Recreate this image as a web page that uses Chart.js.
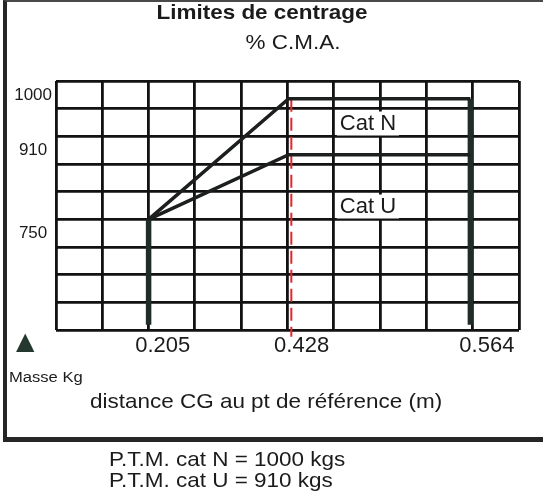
<!DOCTYPE html>
<html><head><meta charset="utf-8">
<script src="https://cdn.jsdelivr.net/npm/chart.js@4.4.1/dist/chart.umd.min.js"></script>
<style>
html,body{margin:0;padding:0;background:#fff;}
#wrap{position:relative;width:543px;height:495px;overflow:hidden;font-family:'Liberation Sans',Arial,sans-serif;color:#1b1b1b;}
#frame{position:absolute;left:3px;top:0;width:560px;height:442px;box-sizing:border-box;border-top:2px solid #4a4a4a;border-left:4px solid #262626;border-bottom:5px solid #262626;}
canvas{position:absolute;left:0;top:0;}
.t{position:absolute;white-space:nowrap;line-height:1;transform:scaleX(1.07);transform-origin:left top;}
.c{transform-origin:center top;}
</style></head><body>
<div id="wrap">
<div id="frame"></div>
<canvas id="c" width="543" height="495"></canvas>
<div class="t c" style="left:0;width:524px;text-align:center;top:1px;font-size:21px;font-weight:bold;">Limites de centrage</div>
<div class="t c" style="left:0;width:586px;text-align:center;top:31px;font-size:21px;">% C.M.A.</div>
<div class="t" style="left:16px;top:329px;font-size:24px;font-family:'DejaVu Sans',sans-serif;color:#24382f;transform:none;">▲</div>
<div class="t" style="left:9px;top:369px;font-size:15.5px;">Masse Kg</div>
<div class="t" style="left:90px;top:390px;font-size:21px;">distance CG au pt de référence (m)</div>
<div class="t" style="left:109px;top:448px;font-size:21px;">P.T.M. cat N = 1000 kgs</div>
<div class="t" style="left:109px;top:469px;font-size:21px;">P.T.M. cat U = 910 kgs</div>
</div>
<script>
// ---- data ----
const cgPositions = [0.205, 0.428, 0.564];          // m
const catNMass = [750, 1000, 1000];                 // kg
const catUMass = [750, 910, 910];                   // kg
const forwardLimitCg = [0.205, 0.205];
const forwardLimitMass = [750, 490];
const aftLimitCg = [0.564, 0.564];
const aftLimitMass = [1000, 490];
const refLineCg = [0.430, 0.430];
const refLineMass = [1000, 460];
const xTickLabels = ['', '', '0.205', '', '', '0.428', '', '', '', '0.564'];
const yTickLabels = ['1000', '', '910', '', '', '750', '', '', ''];
const categoryLabels = ['Cat N', 'Cat U'];

// ---- scale configuration (schematic, non-uniform axes) ----
const scaleKnots = {
  xData: {values: [0.205, 0.428, 0.564], decimals: [0.2, 0.5025, 0.895]},
  yData: {values: [750, 910, 1000], decimals: [0.444, 0.704, 0.929]}
};
const catLabelCells = [{col: 6, row: 1}, {col: 6, row: 4}];

function interp(v, xs, ys) {
  let i = 0;
  if (v <= xs[0]) i = 0;
  else if (v >= xs[xs.length - 1]) i = xs.length - 2;
  else { while (v > xs[i + 1]) i++; }
  const t = (v - xs[i]) / (xs[i + 1] - xs[i]);
  return ys[i] + t * (ys[i + 1] - ys[i]);
}
class PiecewiseScale extends Chart.LinearScale {
  getPixelForValue(value) {
    const k = scaleKnots[this.id];
    return this.getPixelForDecimal(interp(value, k.values, k.decimals));
  }
  getValueForPixel(pixel) {
    const k = scaleKnots[this.id];
    return interp(this.getDecimalForPixel(pixel), k.decimals, k.values);
  }
}
PiecewiseScale.id = 'piecewise';
PiecewiseScale.defaults = Chart.LinearScale.defaults;
Chart.register(PiecewiseScale);

const pts = (xs, ys) => xs.map((x, i) => ({x: x, y: ys[i]}));
const lineDs = (label, data, color, width, extra) => Object.assign({
  label, data, showLine: true, borderColor: color, borderWidth: width,
  pointRadius: 0, fill: false, tension: 0, xAxisID: 'xData', yAxisID: 'yData',
  borderCapStyle: 'butt', borderJoinStyle: 'miter'
}, extra || {});

const catLabelPlugin = {
  id: 'catLabels',
  afterDatasetsDraw(chart) {
    const ctx = chart.ctx, xs = chart.scales.x, ys = chart.scales.y;
    const band = xs.getPixelForValue(1) - xs.getPixelForValue(0);
    ctx.save();
    ctx.font = '22px "Liberation Sans", Arial, sans-serif';
    ctx.textBaseline = 'middle';
    categoryLabels.forEach((text, i) => {
      const x = xs.getPixelForValue(catLabelCells[i].col) - band / 2 + 6;
      const y = ys.getPixelForValue(catLabelCells[i].row);
      const w = ctx.measureText(text).width;
      ctx.fillStyle = '#fff';
      ctx.fillRect(x - 3, y - 11, w + 6, 24);
      ctx.fillStyle = '#1b1b1b';
      ctx.fillText(text, x, y + 1);
    });
    ctx.restore();
  }
};

const gridOpts = {offset: true, color: '#121212', lineWidth: 2.8, drawTicks: false};

new Chart(document.getElementById('c'), {
  type: 'scatter',
  data: {
    datasets: [
      lineDs('Cat N', pts(cgPositions, catNMass), '#1c1f1e', 3.5),
      lineDs('Cat U', pts(cgPositions, catUMass), '#1c1f1e', 3.5),
      lineDs('Limite avant', pts(forwardLimitCg, forwardLimitMass), '#1f2c27', 5.5),
      lineDs('Limite arrière', pts(aftLimitCg, aftLimitMass), '#1f2c27', 5.5),
      lineDs('Référence', pts(refLineCg, refLineMass), '#e3262f', 2, {borderDash: [13, 6], clip: false})
    ]
  },
  options: {
    responsive: false,
    animation: false,
    events: [],
    layout: {padding: {left: 12, top: 81, right: 24, bottom: 135}},
    plugins: {legend: {display: false}, tooltip: {enabled: false}, title: {display: false}},
    scales: {
      x: {
        type: 'category', labels: xTickLabels, offset: true, position: 'bottom',
        grid: gridOpts, border: {display: false},
        ticks: {autoSkip: false, maxRotation: 0, labelOffset: -9, padding: 3, color: '#1b1b1b',
                font: {family: "'Liberation Sans', Arial, sans-serif", size: 22}},
        afterFit: s => { s.height = 30; }
      },
      y: {
        type: 'category', labels: yTickLabels, offset: true, position: 'left',
        grid: gridOpts, border: {display: false},
        ticks: {autoSkip: false, crossAlign: 'center', padding: 4, color: '#1b1b1b',
                font: {family: "'Liberation Sans', Arial, sans-serif", size: 17}},
        afterFit: s => { s.width = 44; }
      },
      xData: {type: 'piecewise', axis: 'x', position: 'bottom', display: false},
      yData: {type: 'piecewise', axis: 'y', position: 'left', display: false}
    }
  },
  plugins: [catLabelPlugin]
});
</script>
</body></html>
